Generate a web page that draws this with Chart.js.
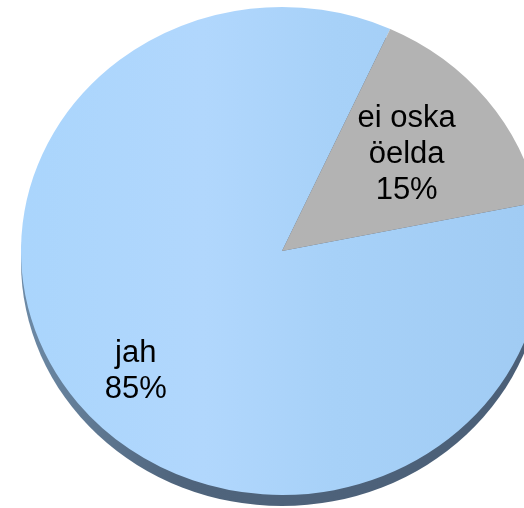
<!DOCTYPE html>
<html>
<head>
    <script src="https://cdn.jsdelivr.net/npm/chart.js"></script>
    <style>
        html, body {
            margin: 0;
            padding: 0;
            width: 524px;
            height: 508px;
            overflow: hidden;
            background: #fff;
        }
        #pie {
            position: absolute;
            left: 21px;
            top: -10px;
        }
    </style>
</head>
<body>
    <canvas id="pie" width="522" height="522"></canvas>
    <script>
        const categories = ['jah', 'ei oska öelda'];
        const labelLines = [['jah'], ['ei oska', 'öelda']];
        const shares = [85, 15];

        const tilt = 0.935;          // squash the pie into an ellipse
        const labelDist = [0.75, 0.625];
        const labelNudge = [[7, 7], [-3, -2]];

        const tiltPlugin = {
            id: 'tilt',
            beforeDatasetsDraw(chart) {
                const arc = chart.getDatasetMeta(0).data[0];
                const ctx = chart.ctx;
                ctx.save();
                ctx.translate(arc.x, arc.y);
                ctx.scale(1, tilt);
                ctx.translate(-arc.x, -arc.y);
                // dark rim under the pie
                ctx.beginPath();
                ctx.arc(arc.x, arc.y + 11 / tilt, arc.outerRadius, 0, Math.PI * 2);
                const g = ctx.createLinearGradient(arc.x - arc.outerRadius, 0, arc.x + arc.outerRadius, 0);
                g.addColorStop(0, '#6d8aa6');
                g.addColorStop(0.3, '#4f647c');
                g.addColorStop(1, '#4b5f77');
                ctx.fillStyle = g;
                ctx.fill();
            },
            afterDatasetsDraw(chart) {
                const ctx = chart.ctx;
                ctx.restore();
                ctx.save();
                ctx.font = '31px "Liberation Sans", Arial, sans-serif';
                ctx.fillStyle = '#000';
                ctx.textAlign = 'center';
                ctx.textBaseline = 'middle';
                chart.getDatasetMeta(0).data.forEach((arc, i) => {
                    const mid = (arc.startAngle + arc.endAngle) / 2;
                    const r = arc.outerRadius * labelDist[i];
                    const x = arc.x + Math.cos(mid) * r + labelNudge[i][0];
                    const y = arc.y + Math.sin(mid) * r * tilt + labelNudge[i][1];
                    const lines = labelLines[i].concat([shares[i] + '%']);
                    const lh = 36;
                    lines.forEach((t, k) => {
                        ctx.fillText(t, x, y + (k - (lines.length - 1) / 2) * lh);
                    });
                });
                ctx.restore();
            }
        };

        new Chart(document.getElementById('pie'), {
            type: 'pie',
            data: {
                labels: categories,
                datasets: [{
                    data: shares,
                    backgroundColor: (c) => {
                        if (c.dataIndex === 1) return '#b3b3b3';
                        const area = c.chart.chartArea;
                        if (!area) return '#a9d3fa';
                        const g = c.chart.ctx.createLinearGradient(area.left, 0, area.right, 0);
                        g.addColorStop(0, '#aad5fc');
                        g.addColorStop(0.35, '#b1d7fd');
                        g.addColorStop(0.6, '#a7d1f8');
                        g.addColorStop(1, '#a0cbf3');
                        return g;
                    },
                    borderWidth: 0
                }]
            },
            options: {
                responsive: false,
                animation: false,
                rotation: 78.5,
                events: [],
                plugins: {
                    legend: { display: false },
                    tooltip: { enabled: false }
                }
            },
            plugins: [tiltPlugin]
        });
    </script>
</body>
</html>
